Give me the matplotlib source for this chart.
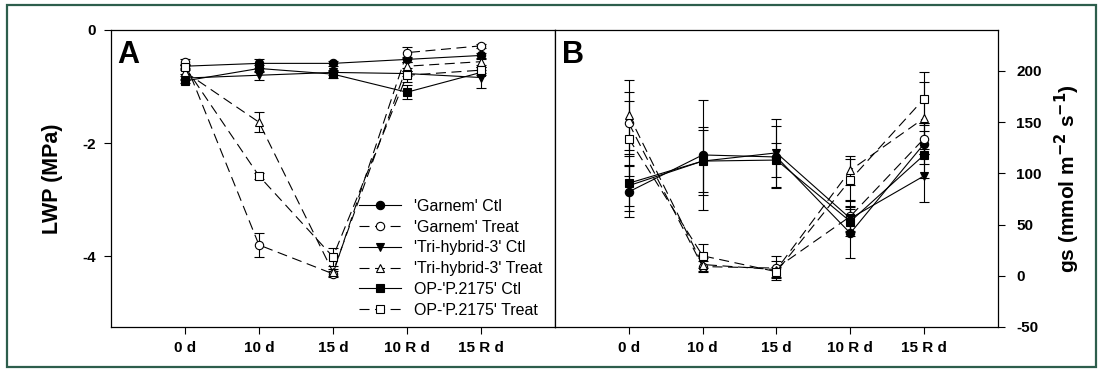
import matplotlib.pyplot as plt
from matplotlib.patches import Rectangle

# ---------------- datos ----------------
dias = ["0 d", "10 d", "15 d", "10 R d", "15 R d"]
series = ["'Garnem' Ctl", "'Garnem' Treat", "'Tri-hybrid-3' Ctl",
          "'Tri-hybrid-3' Treat", "OP-'P.2175' Ctl", "OP-'P.2175' Treat"]

# panel A: potencial hidrico foliar (MPa)
lwp_garnem_ctl = [-0.64, -0.59, -0.59, -0.52, -0.45]
lwp_garnem_trt = [-0.56, -3.80, -4.31, -0.40, -0.28]
lwp_tri_ctl = [-0.85, -0.80, -0.75, -0.77, -0.84]
lwp_tri_trt = [-0.74, -1.63, -4.28, -0.64, -0.56]
lwp_op_ctl = [-0.90, -0.68, -0.78, -1.10, -0.75]
lwp_op_trt = [-0.65, -2.58, -4.01, -0.80, -0.71]

lwp_err_garnem_ctl = [0.03, 0.08, 0.04, 0.05, 0.05]
lwp_err_garnem_trt = [0.04, 0.21, 0.05, 0.10, 0.04]
lwp_err_tri_ctl = [0.04, 0.08, 0.05, 0.05, 0.18]
lwp_err_tri_trt = [0.04, 0.18, 0.06, 0.08, 0.05]
lwp_err_op_ctl = [0.04, 0.06, 0.06, 0.12, 0.05]
lwp_err_op_trt = [0.04, 0.05, 0.16, 0.12, 0.05]

# panel B: conductancia estomatica (mmol m-2 s-1)
gs_garnem_ctl = [82, 118, 116, 41.6, 129]
gs_garnem_trt = [149, 9, 7.5, 58, 134]
gs_tri_ctl = [88, 112, 120, 56, 97.6]
gs_tri_trt = [157, 11, 6, 103, 154]
gs_op_ctl = [90.4, 112, 113, 53, 118]
gs_op_trt = [134, 19.5, 4, 93.7, 173]

gs_err_garnem_ctl = [25, 54, 30, 24, 20]
gs_err_garnem_trt = [30, 5, 12, 15, 15]
gs_err_tri_ctl = [20, 30, 33, 12, 26]
gs_err_tri_trt = [34, 6, 8, 14, 35]
gs_err_op_ctl = [27, 33, 17, 14, 23]
gs_err_op_trt = [37, 12, 5, 20, 26]

# ---------------- estilos ----------------
guion = (0, (9, 5))
estilos = [
    dict(marker="o", mfc="black", ls="-"),
    dict(marker="o", mfc="white", ls=guion),
    dict(marker="v", mfc="black", ls="-"),
    dict(marker="^", mfc="white", ls=guion),
    dict(marker="s", mfc="black", ls="-"),
    dict(marker="s", mfc="white", ls=guion),
]

plt.rcParams["font.family"] = ["Liberation Sans", "DejaVu Sans"]

fig = plt.figure(figsize=(11.02, 3.74), dpi=100)
axA = fig.add_axes([0.1007, 0.1257, 0.4029, 0.7941])
axB = fig.add_axes([0.5036, 0.1257, 0.4020, 0.7941])

x = list(range(len(dias)))


def dibujar(ax, valores, errores):
    for y, e, st, nombre in zip(valores, errores, estilos, series):
        ax.errorbar(x, y, yerr=e, color="black", lw=0.8, elinewidth=0.8,
                    capsize=3.5, capthick=0.8, marker=st["marker"],
                    mfc=st["mfc"], mec="black", mew=0.8, ms=6,
                    ls=st["ls"], label=nombre)
    ax.set_xlim(-1, 5)
    ax.set_xticks(x)
    ax.set_xticklabels(dias, fontsize=11, fontweight="bold")
    for sp in ax.spines.values():
        sp.set_linewidth(0.9)


dibujar(axA, [lwp_garnem_ctl, lwp_garnem_trt, lwp_tri_ctl, lwp_tri_trt,
              lwp_op_ctl, lwp_op_trt],
        [lwp_err_garnem_ctl, lwp_err_garnem_trt, lwp_err_tri_ctl,
         lwp_err_tri_trt, lwp_err_op_ctl, lwp_err_op_trt])
dibujar(axB, [gs_garnem_ctl, gs_garnem_trt, gs_tri_ctl, gs_tri_trt,
              gs_op_ctl, gs_op_trt],
        [gs_err_garnem_ctl, gs_err_garnem_trt, gs_err_tri_ctl,
         gs_err_tri_trt, gs_err_op_ctl, gs_err_op_trt])

# panel A
axA.set_ylim(-5.25, 0)
axA.set_yticks([0, -2, -4])
axA.set_yticklabels(["0", "-2", "-4"], fontweight="bold")
axA.set_ylabel("LWP (MPa)", fontsize=15.5, fontweight="bold", labelpad=14)
axA.text(0.015, 0.965, "A", transform=axA.transAxes, fontsize=22,
         fontweight="bold", va="top", ha="left")
handles, labels = axA.get_legend_handles_labels()
handles = [h[0] for h in handles]
axA.legend(handles, labels, loc="lower right", bbox_to_anchor=(0.985, 0.01),
           frameon=False, fontsize=11.5, handlelength=2.6, handletextpad=0.8,
           labelspacing=0.36, borderaxespad=0)

# panel B
axB.set_ylim(-50, 240)
axB.set_yticks([-50, 0, 50, 100, 150, 200])
axB.set_yticklabels(["-50", "0", "50", "100", "150", "200"], fontweight="bold")
axB.yaxis.set_label_position("right")
axB.set_ylabel("gs (mmol m$^{\\mathbf{-2}}$ s$^{\\mathbf{-1}}$)", fontsize=15,
               fontweight="bold", labelpad=8)
axB.text(0.015, 0.965, "B", transform=axB.transAxes, fontsize=22,
         fontweight="bold", va="top", ha="left")

# marcas de los ejes (al final para que no se reinicien)
for ax in (axA, axB):
    ax.tick_params(axis="x", direction="out", length=5, width=0.8,
                   labelsize=11, pad=5)
axA.tick_params(axis="y", direction="out", length=5, width=0.8,
                labelsize=11, pad=6)
axB.tick_params(axis="y", direction="out", length=5, width=0.8,
                labelsize=11, pad=8, left=False, labelleft=False,
                right=True, labelright=True)

# marco verde de la figura
fig.patches.append(Rectangle((7 / 1102, 1 - 367 / 374), 1089 / 1102,
                             362 / 374, transform=fig.transFigure,
                             fill=False, ec="#2d5e4c", lw=1.6))

fig.savefig("out.png", dpi=100)
